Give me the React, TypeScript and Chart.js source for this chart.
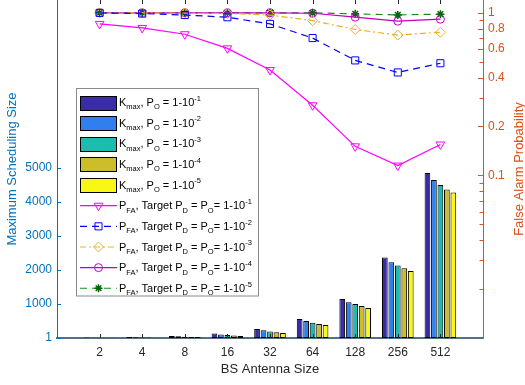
import { useEffect, useRef } from 'react';
import { Chart, registerables } from 'chart.js';
import { drawPoint } from 'chart.js/helpers';
Chart.register(...registerables);

const categories = ['2', '4', '8', '16', '32', '64', '128', '256', '512'];
const kmaxPO1 = [13, 28, 60, 130, 265, 560, 1150, 2370, 4850];
const kmaxPO2 = [9, 21, 48, 105, 228, 500, 1050, 2230, 4650];
const kmaxPO3 = [7, 16, 38, 88, 188, 445, 1000, 2130, 4500];
const kmaxPO4 = [5, 13, 32, 72, 168, 410, 940, 2050, 4370];
const kmaxPO5 = [4, 11, 27, 60, 150, 385, 880, 1970, 4280];
const pfaPD1 = [0.855, 0.808, 0.739, 0.605, 0.445, 0.27, 0.151, 0.115, 0.155];
const pfaPD2 = [1.0, 0.99, 0.97, 0.94, 0.855, 0.7, 0.51, 0.43, 0.49];
const pfaPD3 = [1.0, 1.0, 0.995, 0.99, 0.97, 0.896, 0.79, 0.73, 0.76];
const pfaPD4 = [1.0, 1.0, 1.0, 1.0, 1.0, 0.995, 0.941, 0.889, 0.914];
const pfaPD5 = [1.0, 1.0, 1.0, 1.0, 1.0, 1.0, 0.986, 0.972, 0.982];
const leftTicks = [1, 1000, 2000, 3000, 4000, 5000];
const rightTicks = [0.1, 0.2, 0.4, 0.6, 0.8, 1];
const rightMinorTicks = [0.02, 0.03, 0.04, 0.05, 0.06, 0.07, 0.08, 0.09, 0.3, 0.5, 0.7, 0.9];
const barLabels = [
  'K_{max}, P_{O} = 1-10^{-1}',
  'K_{max}, P_{O} = 1-10^{-2}',
  'K_{max}, P_{O} = 1-10^{-3}',
  'K_{max}, P_{O} = 1-10^{-4}',
  'K_{max}, P_{O} = 1-10^{-5}',
];
const lineLabels = [
  'P_{FA}, Target P_{D} = P_{O}= 1-10^{-1}',
  'P_{FA}, Target P_{D} = P_{O}= 1-10^{-2}',
  'P_{FA}, Target P_{D} = P_{O}= 1-10^{-3}',
  'P_{FA}, Target P_{D} = P_{O}= 1-10^{-4}',
  'P_{FA}, Target P_{D} = P_{O}= 1-10^{-5}',
];
const xTitle = 'BS Antenna Size';
const leftTitle = 'Maximum Scheduling Size';
const rightTitle = 'False Alarm Probability';

const FONT = '"Liberation Sans", Arial, Helvetica, sans-serif';
const LEFT_COLOR = '#0072BD';
const RIGHT_COLOR = '#D95319';
const AX_COLOR = '#262626';
const barColors = ['#3a2ca6', '#2f80ee', '#1ebcb0', '#cdbd2a', '#f8f814'];

const pad = (a: number[]) => [null, ...a, null];

function parseRich(s: string) {
  const segs: { t: string; m: number }[] = [];
  let buf = '';
  let i = 0;
  while (i < s.length) {
    const c = s[i];
    if ((c === '_' || c === '^') && s[i + 1] === '{') {
      if (buf) { segs.push({ t: buf, m: 0 }); buf = ''; }
      const end = s.indexOf('}', i);
      segs.push({ t: s.slice(i + 2, end), m: c === '_' ? -1 : 1 });
      i = end + 1;
    } else {
      buf += c;
      i++;
    }
  }
  if (buf) segs.push({ t: buf, m: 0 });
  return segs;
}

function drawRich(ctx: CanvasRenderingContext2D, s: string, x: number, baseline: number) {
  let cx = x;
  for (const seg of parseRich(s)) {
    if (seg.m === 0) {
      ctx.font = `11px ${FONT}`;
      ctx.fillText(seg.t, cx, baseline);
    } else {
      ctx.font = `7.5px ${FONT}`;
      ctx.fillText(seg.t, cx, seg.m < 0 ? baseline + 3.3 : baseline - 5.3);
    }
    cx += ctx.measureText(seg.t).width;
  }
}

const axisDecor = {
  id: 'axisDecor',
  afterDatasetsDraw(chart: any) {
    const { ctx, chartArea, scales } = chart;
    const { left, right, top, bottom } = chartArea;
    ctx.save();
    ctx.lineWidth = 1;
    ctx.strokeStyle = AX_COLOR;
    ctx.beginPath();
    for (let i = 1; i <= categories.length; i++) {
      const px = Math.round(scales.x.getPixelForValue(i)) + 0.5;
      ctx.moveTo(px, top);
      ctx.lineTo(px, top + 4);
      ctx.moveTo(px, bottom);
      ctx.lineTo(px, bottom - 4);
    }
    ctx.stroke();
    ctx.strokeStyle = LEFT_COLOR;
    ctx.beginPath();
    for (const v of leftTicks) {
      const py = Math.round(scales.y.getPixelForValue(v)) + 0.5;
      ctx.moveTo(left, py);
      ctx.lineTo(left + 4, py);
    }
    ctx.stroke();
    ctx.strokeStyle = RIGHT_COLOR;
    ctx.beginPath();
    for (const v of rightTicks) {
      const py = Math.round(scales.y2.getPixelForValue(v)) + 0.5;
      ctx.moveTo(right, py);
      ctx.lineTo(right - 5, py);
    }
    for (const v of rightMinorTicks) {
      const py = Math.round(scales.y2.getPixelForValue(v)) + 0.5;
      ctx.moveTo(right, py);
      ctx.lineTo(right - 3.5, py);
    }
    ctx.stroke();
    ctx.restore();
  },
  afterDraw(chart: any) {
    const { ctx, chartArea } = chart;
    ctx.save();
    ctx.translate(chart.width - 6, (chartArea.top + chartArea.bottom) / 2);
    ctx.rotate(-Math.PI / 2);
    ctx.fillStyle = RIGHT_COLOR;
    ctx.font = `13px ${FONT}`;
    ctx.textAlign = 'center';
    ctx.textBaseline = 'middle';
    ctx.fillText(rightTitle, 0, 0);
    ctx.restore();

    const x0 = chartArea.left + 19.5;
    const y0 = chartArea.top + 88.5;
    const w = 182;
    const h = 207.5;
    ctx.save();
    ctx.fillStyle = '#ffffff';
    ctx.fillRect(x0, y0, w, h);
    ctx.strokeStyle = '#8a8a8a';
    ctx.lineWidth = 1;
    ctx.strokeRect(x0, y0, w, h);
    const ds = chart.data.datasets;
    ds.forEach((d: any, i: number) => {
      const cy = y0 + 14 + i * 20.64;
      if (d.type === 'line') {
        ctx.save();
        ctx.strokeStyle = d.borderColor;
        ctx.lineWidth = d.borderWidth;
        ctx.setLineDash(d.borderDash || []);
        ctx.beginPath();
        ctx.moveTo(x0 + 3.5, cy);
        ctx.lineTo(x0 + 40.5, cy);
        ctx.stroke();
        ctx.setLineDash([]);
        ctx.fillStyle = d.pointBackgroundColor;
        ctx.strokeStyle = d.pointBorderColor;
        ctx.lineWidth = d.pointBorderWidth;
        drawPoint(ctx, {
          pointStyle: d.pointStyle,
          rotation: d.pointRotation || 0,
          radius: d.pointRadius,
          borderWidth: d.pointBorderWidth,
        } as any, x0 + 22, cy);
        ctx.restore();
      } else {
        ctx.fillStyle = d.backgroundColor;
        ctx.fillRect(x0 + 4, Math.round(cy - 7) + 0.5, 36, 14);
        ctx.strokeStyle = '#000';
        ctx.lineWidth = 1;
        ctx.strokeRect(x0 + 4, Math.round(cy - 7) + 0.5, 36, 14);
      }
      ctx.fillStyle = '#000';
      ctx.textBaseline = 'alphabetic';
      ctx.textAlign = 'left';
      drawRich(ctx, d.label, x0 + 42.5, cy + 3.6);
    });
    ctx.restore();
  },
};

export default function App() {
  const ref = useRef<HTMLCanvasElement>(null);
  useEffect(() => {
    const barSets = [kmaxPO1, kmaxPO2, kmaxPO3, kmaxPO4, kmaxPO5].map((vals, i) => ({
      type: 'bar' as const,
      label: barLabels[i],
      data: pad(vals),
      yAxisID: 'y',
      backgroundColor: barColors[i],
      borderColor: '#000',
      borderWidth: 1,
      borderSkipped: false,
      categoryPercentage: 0.76,
      barPercentage: 0.88,
      order: 2,
    }));
    const lineStyles = [
      { color: '#ff00ff', dash: [], style: 'triangle', rot: 180, r: 5, pbw: 1 },
      { color: '#0000ff', dash: [7, 5], style: 'rect', rot: 0, r: 5, pbw: 1 },
      { color: '#EDB120', dash: [6, 3, 2, 3], style: 'rectRot', rot: 0, r: 5, pbw: 1 },
      { color: '#c000c0', dash: [], style: 'circle', rot: 0, r: 4, pbw: 1 },
      { color: '#1a8a1a', dash: [7, 5], style: 'star', rot: 0, r: 4, pbw: 1.5 },
    ];
    const lineSets = [pfaPD1, pfaPD2, pfaPD3, pfaPD4, pfaPD5].map((vals, i) => {
      const s = lineStyles[i];
      return {
        type: 'line' as const,
        label: lineLabels[i],
        data: pad(vals),
        yAxisID: 'y2',
        borderColor: s.color,
        borderWidth: 1.2,
        borderDash: s.dash,
        pointStyle: s.style,
        pointRotation: s.rot,
        pointRadius: s.r,
        pointBorderWidth: s.pbw,
        pointBorderColor: i === 4 ? '#006400' : s.color,
        pointBackgroundColor: 'rgba(0,0,0,0)',
        tension: 0,
        fill: false,
        order: 1,
      };
    });
    const chart = new Chart(ref.current!, {
      type: 'bar',
      data: {
        labels: ['', ...categories, ''],
        datasets: [...barSets, ...lineSets] as any,
      },
      options: {
        responsive: false,
        animation: false,
        devicePixelRatio: 1,
        layout: { autoPadding: false, padding: { left: 5, right: 0, top: 0, bottom: 8 } },
        plugins: { legend: { display: false }, tooltip: { enabled: false } },
        scales: {
          x: {
            type: 'category',
            offset: false,
            grid: { display: false, drawTicks: false },
            border: { display: true, color: '#557080', width: 2 },
            ticks: { color: AX_COLOR, font: { size: 12, family: FONT }, padding: 7, autoSkip: false, maxRotation: 0 },
            title: { display: true, text: xTitle, color: AX_COLOR, font: { size: 13, family: FONT }, padding: 0 },
            afterFit: (s: any) => { s.height = 39; s.paddingLeft = 0; s.paddingRight = 0; },
          },
          y: {
            type: 'linear',
            position: 'left',
            min: 0,
            max: 9940,
            afterBuildTicks: (s: any) => { s.ticks = leftTicks.map((v) => ({ value: v })); },
            grid: { display: false, drawTicks: false },
            border: { display: true, color: LEFT_COLOR, width: 1 },
            ticks: { color: LEFT_COLOR, font: { size: 12, family: FONT }, padding: 5, callback: (v: any) => String(v) },
            title: { display: true, text: leftTitle, color: LEFT_COLOR, font: { size: 13, family: FONT }, padding: 0 },
            afterFit: (s: any) => { s.width = 52; s.paddingTop = 0; s.paddingBottom = 0; },
          },
          y2: {
            type: 'logarithmic',
            position: 'right',
            min: 0.01,
            max: 1.2,
            afterBuildTicks: (s: any) => { s.ticks = rightTicks.map((v) => ({ value: v })); },
            grid: { display: false, drawTicks: false },
            border: { display: true, color: RIGHT_COLOR, width: 1 },
            ticks: { color: RIGHT_COLOR, font: { size: 12, family: FONT }, padding: 5, callback: (v: any) => String(v) },
            afterFit: (s: any) => { s.width = 42; s.paddingTop = 0; s.paddingBottom = 0; },
          },
        },
      } as any,
      plugins: [axisDecor],
    });
    return () => chart.destroy();
  }, []);
  return (
    <div style={{ position: 'absolute', left: 0, top: 0, width: 525, height: 385, background: '#fff' }}>
      <canvas ref={ref} width={525} height={385} style={{ display: 'block', width: 525, height: 385 }} />
    </div>
  );
}
